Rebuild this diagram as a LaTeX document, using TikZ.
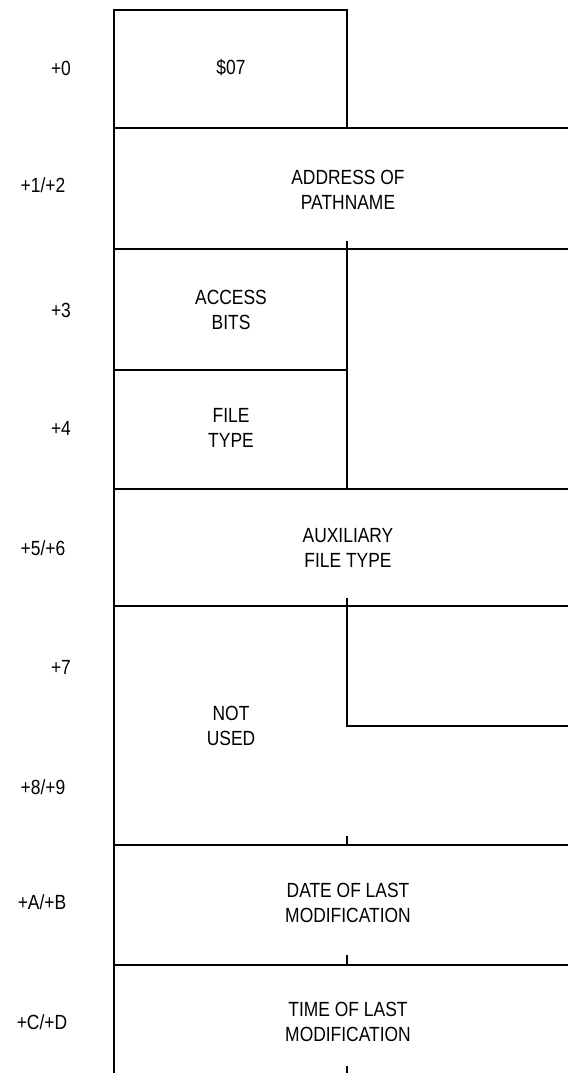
\documentclass[tikz,border=0pt]{standalone}
\usepackage{fontspec}
\setmainfont{Liberation Sans}[FakeStretch=0.85]
\begin{document}
\begin{tikzpicture}[x=1pt,y=-1pt,
  rule/.style={line width=2.2pt,line cap=butt},
  field/.style={align=center,font=\fontsize{20.5}{25}\selectfont,inner sep=0pt},
  offs/.style={font=\fontsize{20.5}{25}\selectfont,inner sep=0pt}]
\useasboundingbox (0,0) rectangle (568,1073);
% left spine
\draw[rule] (114,9) -- (114,1073);
% $07 box
\draw[rule] (113,10) -- (347,10) -- (347,128);
% full-width dividers
\foreach \y in {128,249,489,606,845,965}{\draw[rule] (113,\y) -- (568,\y);}
% half-width divider
\draw[rule] (113,370) -- (347,370);
% middle verticals
\draw[rule] (347,241) -- (347,489);
\draw[rule] (347,598) -- (347,726) -- (568,726);
\draw[rule] (347,836) -- (347,845);
\draw[rule] (347,955) -- (347,965);
\draw[rule] (347,1066) -- (347,1073);
% field texts
\node[field] (f0) at (231,68) {\$07};
\node[field] (f1) at (348,190) {ADDRESS OF\\PATHNAME};
\node[field] (f3) at (231,310) {ACCESS\\BITS};
\node[field] (f4) at (231,428) {FILE\\TYPE};
\node[field] (f5) at (348,548) {AUXILIARY\\FILE TYPE};
\node[field] (f7) at (231,726) {NOT\\USED};
\node[field] (fa) at (348,903) {DATE OF LAST\\MODIFICATION};
\node[field] (fc) at (348,1022) {TIME OF LAST\\MODIFICATION};
% offsets
\node[offs] (o0) at (61,68) {+0};
\node[offs] (o1) at (43,185) {+1/+2};
\node[offs] (o3) at (61,310) {+3};
\node[offs] (o4) at (61,428) {+4};
\node[offs] (o5) at (43,548) {+5/+6};
\node[offs] (o7) at (61,667) {+7};
\node[offs] (o8) at (43,787) {+8/+9};
\node[offs] (oa) at (42,902) {+A/+B};
\node[offs] (oc) at (42,1022) {+C/+D};
\end{tikzpicture}
\end{document}
